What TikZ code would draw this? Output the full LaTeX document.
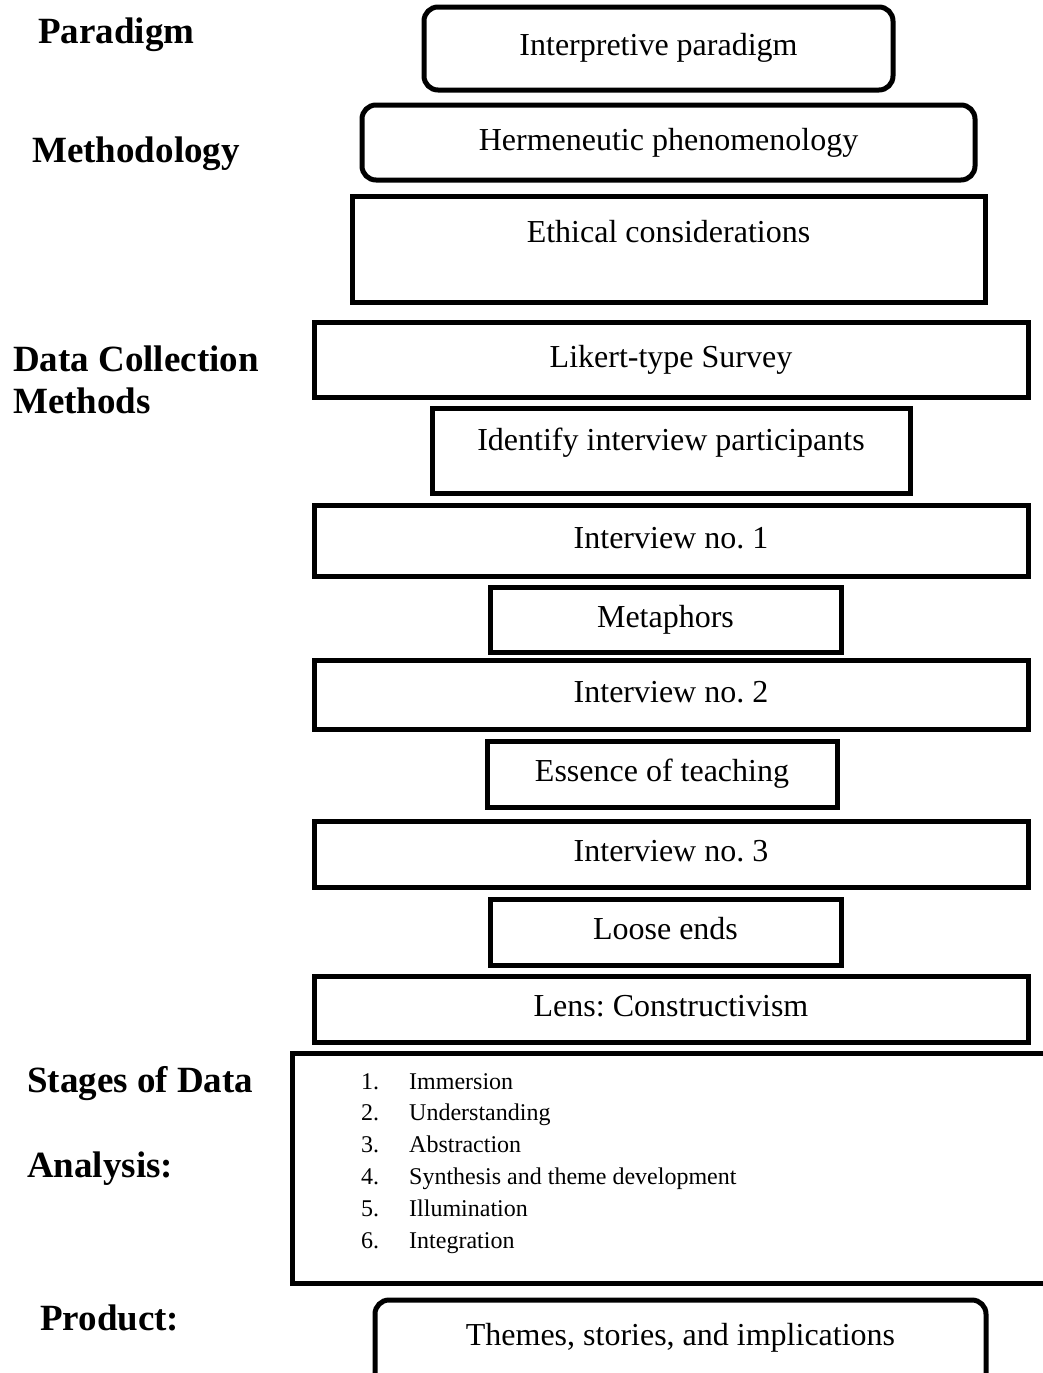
\documentclass[tikz,border=0pt]{standalone}
\usepackage{fontspec}
\setmainfont{Liberation Serif}
\usepackage{tikz}
\frenchspacing

\begin{document}
\begin{tikzpicture}[x=1pt, y=-1pt,
    stage/.style={draw, line width=5pt, inner sep=0pt, font=\fontsize{32}{38}\selectfont, text height=22pt, text depth=7pt},
    roundstage/.style={stage, rounded corners=14pt},
    heading/.style={anchor=base west, inner sep=0pt, font=\fontsize{37}{42}\selectfont\bfseries},
    listitem/.style={anchor=base west, inner sep=0pt, font=\fontsize{24}{29}\selectfont}]
  \useasboundingbox (0,0) rectangle (1042,1373);
  % headings on the left
  \node[heading] (paradigm) at (38,43) {Paradigm};
  \node[heading] (methodology) at (32,162) {Methodology};
  \node[heading] (datacoll) at (13,371) {Data Collection};
  \node[heading] (methods) at (13,413) {Methods};
  \node[heading] (stagesof) at (27,1092) {Stages of Data};
  \node[heading] (analysis) at (27,1177) {Analysis:};
  \node[heading] (product) at (40,1330) {Product:};
  % the stack of boxes
  \node[roundstage, minimum width=469pt, minimum height=83pt, text depth=9pt] (interp) at (658.5,48.5) {Interpretive paradigm};
  \node[roundstage, minimum width=613pt, minimum height=75pt] (herm) at (668.5,142.5) {Hermeneutic phenomenology};
  \node[stage, minimum width=633pt, minimum height=106pt, text depth=35pt] (ethic) at (668.5,249) {Ethical considerations};
  \node[stage, minimum width=714pt, minimum height=75pt] (likert) at (671,359.5) {Likert-type Survey};
  \node[stage, minimum width=478pt, minimum height=85pt, text depth=22pt] (identify) at (671,450.5) {Identify interview participants};
  \node[stage, minimum width=714pt, minimum height=71pt] (int1) at (671,540.5) {Interview no. 1};
  \node[stage, minimum width=351pt, minimum height=65pt] (metaph) at (665.5,619.5) {Metaphors};
  \node[stage, minimum width=714pt, minimum height=69pt] (int2) at (671,694.5) {Interview no. 2};
  \node[stage, minimum width=350pt, minimum height=66pt] (essence) at (662,774) {Essence of teaching};
  \node[stage, minimum width=714pt, minimum height=66pt] (int3) at (671,854) {Interview no. 3};
  \node[stage, minimum width=351pt, minimum height=66pt] (loose) at (665.5,932) {Loose ends};
  \node[stage, minimum width=714pt, minimum height=66pt] (lens) at (671,1009) {Lens: Constructivism};
  % data analysis stages
  \node[stage, minimum width=788pt, minimum height=230pt] (stages) at (686,1168) {};
  \foreach \i/\txt in {1/Immersion, 2/Understanding, 3/Abstraction, 4/Synthesis and theme development, 5/Illumination, 6/Integration} {
    \node[listitem] (num\i) at (361,1057.2+31.8*\i) {\i.};
    \node[listitem] (item\i) at (409,1057.2+31.8*\i) {\txt};
  }
  % product
  \node[roundstage, minimum width=611pt, minimum height=100pt, text depth=31pt] (themes) at (680.5,1350) {Themes, stories, and implications};
\end{tikzpicture}
\end{document}
